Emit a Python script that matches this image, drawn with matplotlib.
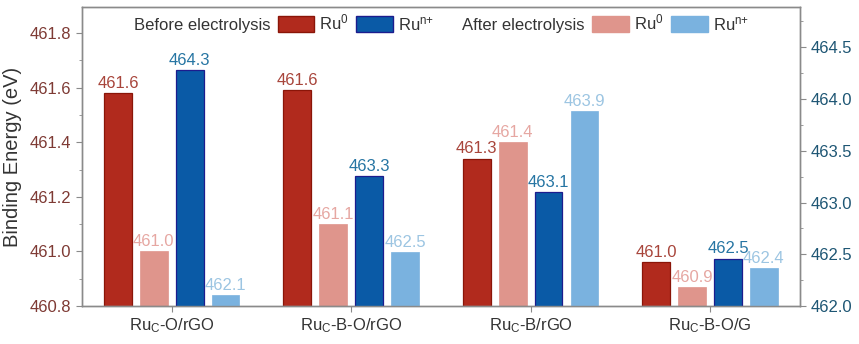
import numpy as np
import matplotlib
matplotlib.use('Agg')
import matplotlib.pyplot as plt
from matplotlib.patches import Patch

plt.rcParams['font.family'] = ['Liberation Sans', 'DejaVu Sans']
plt.rcParams['mathtext.default'] = 'regular'

samples = ['Ru$_C$-O/rGO', 'Ru$_C$-B-O/rGO', 'Ru$_C$-B/rGO', 'Ru$_C$-B-O/G']
ru0_before = [461.58, 461.59, 461.34, 460.96]
ru0_after = [461.00, 461.10, 461.40, 460.87]
run_before = [464.28, 463.26, 463.10, 462.46]
run_after = [462.11, 462.52, 463.88, 462.37]

c_r0b, c_r0a = '#B12A1D', '#DF958C'
c_rnb, c_rna = '#0A5AA6', '#7AB2DF'
lab_r0b, lab_r0a = '#A8453B', '#E6A7A2'
lab_rnb, lab_rna = '#2675A3', '#9CC5E2'
left_tick_col = '#7E3A34'
right_tick_col = '#1E5674'
spine_col = '#8A8A8A'

fig = plt.figure(figsize=(8.59, 3.44), dpi=100)
ax = fig.add_axes([0.0955, 0.110, 0.8355, 0.870])
ax2 = ax.twinx()

x = np.arange(len(samples))
w = 0.155
fs = 12

b1 = ax.bar(x - 0.3, ru0_before, w, color=c_r0b, edgecolor='#8A1508', linewidth=0.9)
b2 = ax.bar(x - 0.1, ru0_after, w, color=c_r0a, edgecolor=c_r0a, linewidth=0.5)
b3 = ax2.bar(x + 0.1, run_before, w, color=c_rnb, edgecolor='#1C1C8E', linewidth=0.9)
b4 = ax2.bar(x + 0.3, run_after, w, color=c_rna, edgecolor=c_rna, linewidth=0.5)

ax.set_ylim(460.8, 461.895)
ax2.set_ylim(462.0, 464.89)
ax.set_xlim(-0.5, 3.5)

for a, bars, vals, col in [(ax, b1, ru0_before, lab_r0b), (ax, b2, ru0_after, lab_r0a),
                           (ax2, b3, run_before, lab_rnb), (ax2, b4, run_after, lab_rna)]:
    for r, v in zip(bars, vals):
        a.annotate('%.1f' % v, (r.get_x() + r.get_width() / 2, v), xytext=(0, 1.5),
                   textcoords='offset points', ha='center', va='bottom',
                   fontsize=fs, color=col)

ax.set_xticks(x)
ax.set_xticklabels(samples, fontsize=fs)
ax.set_yticks(np.arange(460.8, 461.81, 0.2))
ax.set_yticks(np.arange(460.9, 461.81, 0.2), minor=True)
ax.yaxis.set_major_formatter(plt.FormatStrFormatter('%.1f'))
ax2.set_yticks(np.arange(462.0, 464.51, 0.5))
ax2.set_yticks(np.arange(462.25, 464.8, 0.5), minor=True)
ax2.yaxis.set_major_formatter(plt.FormatStrFormatter('%.1f'))

ax.tick_params(axis='y', labelsize=fs, colors=spine_col, labelcolor=left_tick_col, length=4)
ax.tick_params(axis='y', which='minor', colors=spine_col, length=2.5)
ax.tick_params(axis='x', colors=spine_col, labelcolor='#333333', length=4)
ax2.tick_params(axis='y', labelsize=fs, colors=spine_col, labelcolor=right_tick_col, length=4)
ax2.tick_params(axis='y', which='minor', colors=spine_col, length=2.5)

for a in (ax, ax2):
    for s in a.spines.values():
        s.set_color(spine_col)
        s.set_linewidth(1.0)

ax.set_ylabel('Binding Energy (eV)', fontsize=14.5, color='#333333', labelpad=6)

# legends: group title as an entry with a hidden handle
blank = Patch(visible=False)
leg_kw = dict(ncol=3, loc='upper left', frameon=False, fontsize=fs, handlelength=2.2,
              handleheight=1.08, handletextpad=0.3, columnspacing=0.45, borderpad=0.4)
leg1 = ax2.legend([blank, Patch(facecolor=c_r0b, edgecolor='#8A1508'), Patch(facecolor=c_rnb, edgecolor='#1C1C8E')],
                  ['Before electrolysis', 'Ru$^0$', 'Ru$^{n{+}}$'],
                  bbox_to_anchor=(-0.007, 1.03), **leg_kw)
ax2.add_artist(leg1)
leg2 = ax2.legend([blank, Patch(facecolor=c_r0a, edgecolor=c_r0a), Patch(facecolor=c_rna, edgecolor=c_rna)],
                  ['After electrolysis', 'Ru$^0$', 'Ru$^{n{+}}$'],
                  bbox_to_anchor=(0.451, 1.03), **leg_kw)
for lg in (leg1, leg2):
    for t in lg.get_texts():
        t.set_color('#333333')

fig.savefig('out.png', dpi=100)
